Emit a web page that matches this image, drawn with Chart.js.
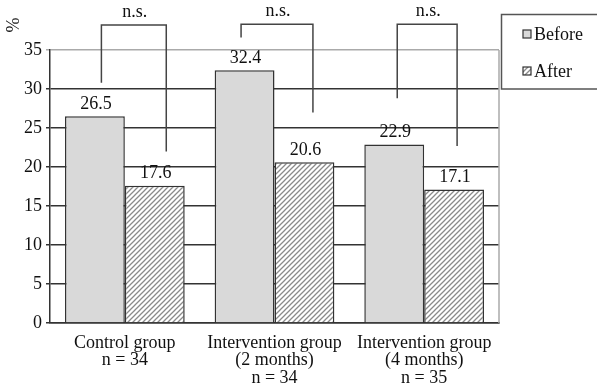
<!DOCTYPE html>
<html>
<head>
<meta charset="utf-8">
<script src="https://cdn.jsdelivr.net/npm/chart.js@4"></script>
<style>
  body { margin: 0; background: #fff; }
  #wrap { width: 597px; height: 385px; }
</style>
</head>
<body>
<div id="wrap"><canvas id="chart" width="597" height="385"></canvas></div>
<script>
const categories = [
    ["Control group", "n = 34"],
    ["Intervention group", "(2 months)", "n = 34"],
    ["Intervention group", "(4 months)", "n = 35"]
];
const seriesNames = ["Before", "After"];
const beforeValues = [26.5, 32.4, 22.9];
const afterValues = [17.6, 20.6, 17.1];
const yTicks = [0, 5, 10, 15, 20, 25, 30, 35];
// n.s. brackets, in % units: top of bracket, end of left leg, end of right leg
const bracketTop = [38.2, 38.3, 38.3];
const bracketLeftEnd = [30.8, 36.6, 28.8];
const bracketRightEnd = [22.0, 27.0, 22.7];
const bracketText = ["n.s.", "n.s.", "n.s."];

const FONT = "'Liberation Serif', 'Times New Roman', serif";

function hatch() {
    const c = document.createElement('canvas');
    c.width = 5; c.height = 5;
    const g = c.getContext('2d');
    g.fillStyle = '#fff';
    g.fillRect(0, 0, 5, 5);
    g.strokeStyle = '#8a8a8a';
    g.lineWidth = 1.3;
    g.beginPath();
    g.moveTo(-1, 6); g.lineTo(6, -1);
    g.moveTo(-1, 1); g.lineTo(1, -1);
    g.moveTo(4, 6); g.lineTo(6, 4);
    g.stroke();
    return g.createPattern(c, 'repeat');
}
const hatchFill = hatch();

const extras = {
    id: 'extras',
    afterDatasetsDraw(chart) {
        const ctx = chart.ctx;
        const y = chart.scales.y;
        const area = chart.chartArea;
        const m0 = chart.getDatasetMeta(0), m1 = chart.getDatasetMeta(1);
        ctx.save();
        // right edge of plot
        ctx.strokeStyle = '#aaa';
        ctx.lineWidth = 1.5;
        ctx.beginPath();
        ctx.moveTo(area.right, area.top);
        ctx.lineTo(area.right, area.bottom);
        ctx.stroke();

        // value labels
        ctx.fillStyle = '#111';
        ctx.font = '18px ' + FONT;
        ctx.textAlign = 'center';
        ctx.textBaseline = 'bottom';
        [m0, m1].forEach((m, di) => {
            m.data.forEach((bar, i) => {
                const v = chart.data.datasets[di].data[i];
                ctx.fillText(v.toFixed(1), bar.x + 1, bar.y - 3);
            });
        });

        // brackets
        const leftOff = [6.5, -3.5, 3];
        const rightOff = [11.5, 8.5, 3];
        ctx.strokeStyle = '#444';
        ctx.lineWidth = 1.5;
        categories.forEach((c, i) => {
            const xl = m0.data[i].x + leftOff[i];
            const xr = m1.data[i].x + rightOff[i];
            const yt = y.getPixelForValue(bracketTop[i]);
            ctx.beginPath();
            ctx.moveTo(xl, y.getPixelForValue(bracketLeftEnd[i]));
            ctx.lineTo(xl, yt);
            ctx.lineTo(xr, yt);
            ctx.lineTo(xr, y.getPixelForValue(bracketRightEnd[i]));
            ctx.stroke();
            ctx.fillText(bracketText[i], (xl + xr) / 2 + 1, yt - 4);
        });

        // % axis title
        ctx.save();
        ctx.translate(14, 25);
        ctx.rotate(-Math.PI / 2);
        ctx.textBaseline = 'middle';
        ctx.fillText('%', 0, 0);
        ctx.restore();

        // legend box
        ctx.strokeStyle = '#555';
        ctx.lineWidth = 1.5;
        ctx.strokeRect(501.5, 14.5, 110, 74.5);
        const items = [[34, '#d9d9d9'], [71, hatchFill]];
        ctx.textAlign = 'left';
        ctx.textBaseline = 'middle';
        items.forEach((it, k) => {
            ctx.fillStyle = it[1];
            ctx.fillRect(523, it[0] - 4, 8, 8);
            ctx.strokeStyle = '#333';
            ctx.lineWidth = 1.2;
            ctx.strokeRect(523, it[0] - 4, 8, 8);
            ctx.fillStyle = '#111';
            ctx.fillText(chart.data.datasets[k].label, 534, it[0] + 1);
        });
        ctx.restore();
    }
};

new Chart(document.getElementById('chart'), {
    type: 'bar',
    data: {
        labels: categories,
        datasets: [
            {
                label: seriesNames[0],
                data: beforeValues,
                backgroundColor: '#d9d9d9',
                borderColor: '#333',
                borderWidth: 1.5,
                borderSkipped: 'bottom'
            },
            {
                label: seriesNames[1],
                data: afterValues,
                backgroundColor: hatchFill,
                borderColor: '#333',
                borderWidth: 1.5,
                borderSkipped: 'bottom'
            }
        ]
    },
    options: {
        responsive: false,
        animation: false,
        categoryPercentage: 0.8,
        barPercentage: 1.0,
        layout: { padding: { top: 50, right: 98, left: 0, bottom: 0 } },
        plugins: { legend: { display: false }, tooltip: { enabled: false } },
        scales: {
            x: {
                grid: { display: false },
                border: { display: true, color: '#333', width: 1.5 },
                ticks: {
                    color: '#111',
                    padding: 3,
                    maxRotation: 0,
                    autoSkip: false,
                    font: { family: FONT, size: 18, lineHeight: 0.98 }
                },
                afterFit(s) { s.height = 62; }
            },
            y: {
                min: 0,
                max: 35,
                afterBuildTicks(s) { s.ticks = yTicks.map(v => ({ value: v })); },
                grid: {
                    color: c => c.tick && c.tick.value === 35 ? '#aaa' : '#333',
                    lineWidth: 1.5,
                    tickLength: 4
                },
                border: { display: true, color: '#333', width: 1.5 },
                ticks: {
                    color: '#111',
                    padding: 4,
                    font: { family: FONT, size: 18 }
                },
                afterFit(s) { s.width = 50; }
            }
        }
    },
    plugins: [extras]
});
</script>
</body>
</html>
